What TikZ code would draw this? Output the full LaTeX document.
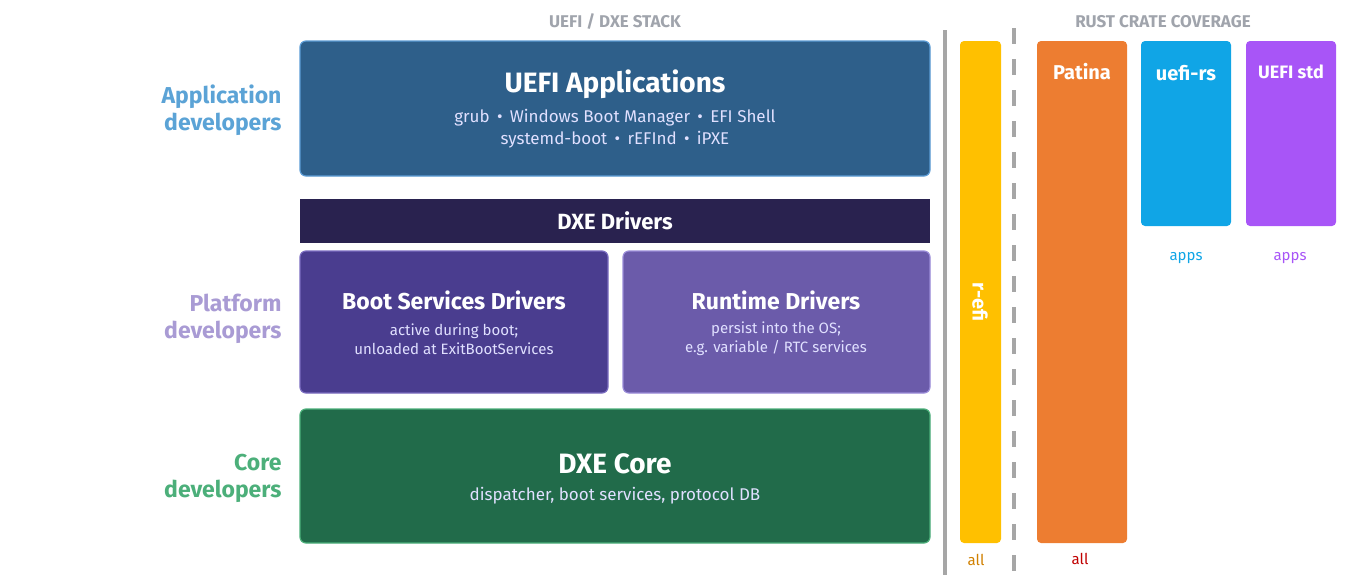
\documentclass[tikz,border=0pt]{standalone}
\usepackage{fontspec}
\setmainfont{Fira Sans}
\definecolor{hdrgray}{HTML}{A0A4AC}
\definecolor{cA}{HTML}{5BA3D6}
\definecolor{cP}{HTML}{A99BD4}
\definecolor{cC}{HTML}{4CAF7A}
\definecolor{uaB}{HTML}{5B9BD5}
\definecolor{uaF}{HTML}{2E5F8A}
\definecolor{ddF}{HTML}{29224F}
\definecolor{bsB}{HTML}{7A6CC0}
\definecolor{bsF}{HTML}{4A3D8F}
\definecolor{rtB}{HTML}{9A8CD8}
\definecolor{rtF}{HTML}{6B5BAA}
\definecolor{dcF}{HTML}{216B4A}
\definecolor{sep}{HTML}{A6A6A6}
\definecolor{yel}{HTML}{FFC000}
\definecolor{yelT}{HTML}{D08000}
\definecolor{ora}{HTML}{ED7D31}
\definecolor{redT}{HTML}{C00000}
\definecolor{blu}{HTML}{10A5E6}
\definecolor{pur}{HTML}{A855F7}
\begin{document}
\begin{tikzpicture}[x=1pt,y=-1pt,
  box/.style={draw, line width=1.2pt, rounded corners=6pt, inner sep=0pt},
  bar/.style={rounded corners=4pt, inner sep=0pt},
  hdr/.style={text=hdrgray, font=\fontsize{17}{17}\selectfont\bfseries},
  lbl/.style={anchor=east, align=right, font=\fontsize{23}{27}\selectfont\bfseries},
  ttl/.style={text=white, font=\fontsize{28}{30}\selectfont\bfseries},
  sub/.style={text=white!88!blue, align=center, font=\fontsize{17}{22}\selectfont},
  sm/.style={font=\fontsize{15}{15}\selectfont}]
\useasboundingbox (0,0) rectangle (1365,581);
\node[hdr] (h1) at (615,22) {UEFI / DXE STACK};
\node[hdr] (h2) at (1163,22) {RUST CRATE COVERAGE};
% left labels
\node[lbl, text=cA] (la) at (285,110) {Application\\developers};
\node[lbl, text=cP] (lp) at (285,319) {Platform\\developers};
\node[lbl, text=cC] (lc) at (285,478) {Core\\developers};
% stack
\draw[box, draw=uaB, fill=uaF] (300,41) rectangle (930,176);
\node[ttl] (ua) at (615,84) {UEFI Applications};
\node[sub] (uas) at (615,129) {grub \,•\, Windows Boot Manager \,•\, EFI Shell\\systemd-boot \,•\, rEFInd \,•\, iPXE};
\fill[ddF] (300,199) rectangle (930,243);
\node[text=white, font=\fontsize{22}{22}\selectfont\bfseries] (dd) at (615,221) {DXE Drivers};
\draw[box, draw=bsB, fill=bsF] (300,251) rectangle (608,393);
\node[text=white, font=\fontsize{23}{23}\selectfont\bfseries] (bs) at (454,300) {Boot Services Drivers};
\node[sub, font=\fontsize{15}{19}\selectfont] (bss) at (454,339) {active during boot;\\unloaded at ExitBootServices};
\draw[box, draw=rtB, fill=rtF] (623,251) rectangle (930,393);
\node[text=white, font=\fontsize{23}{23}\selectfont\bfseries] (rt) at (776,300) {Runtime Drivers};
\node[sub, font=\fontsize{15}{19}\selectfont] (rts) at (776,339) {persist into the OS;\\e.g. variable / RTC services};
\draw[box, draw=cC, fill=dcF] (300,409) rectangle (930,543);
\node[ttl] (dc) at (615,464) {DXE Core};
\node[sub] (dcs) at (615,496) {dispatcher, boot services, protocol DB};
% separators
\coordinate (s1a) at (945,30); \coordinate (s1b) at (945,575);
\draw[line width=4pt, color=sep] (s1a) -- (s1b);
\coordinate (s2a) at (1014,28); \coordinate (s2b) at (1014,575);
\draw[line width=4pt, color=sep, dash pattern=on 16pt off 15pt] (s2a) -- (s2b);
% crates
\fill[bar, yel] (960,41) rectangle (1001,543);
\node[text=white, rotate=-90, font=\fontsize{20}{20}\selectfont\bfseries] (re) at (980,302) {r-efi};
\node[sm, text=yelT] (rea) at (976,560) {all};
\fill[bar, ora] (1037,41) rectangle (1127,543);
\node[text=white, font=\fontsize{20}{20}\selectfont\bfseries] (pa) at (1082,72) {Patina};
\node[sm, text=redT] (paa) at (1080,559) {all};
\fill[bar, blu] (1141,41) rectangle (1231,226);
\node[text=white, font=\fontsize{20}{20}\selectfont\bfseries] (ur) at (1186,73) {uefi-rs};
\node[sm, text=blu] (ura) at (1186,258) {apps};
\fill[bar, pur] (1246,41) rectangle (1336,226);
\node[text=white, font=\fontsize{18}{18}\selectfont\bfseries] (us) at (1291,72) {UEFI std};
\node[sm, text=pur] (usa) at (1290,258) {apps};
\end{tikzpicture}
\end{document}
